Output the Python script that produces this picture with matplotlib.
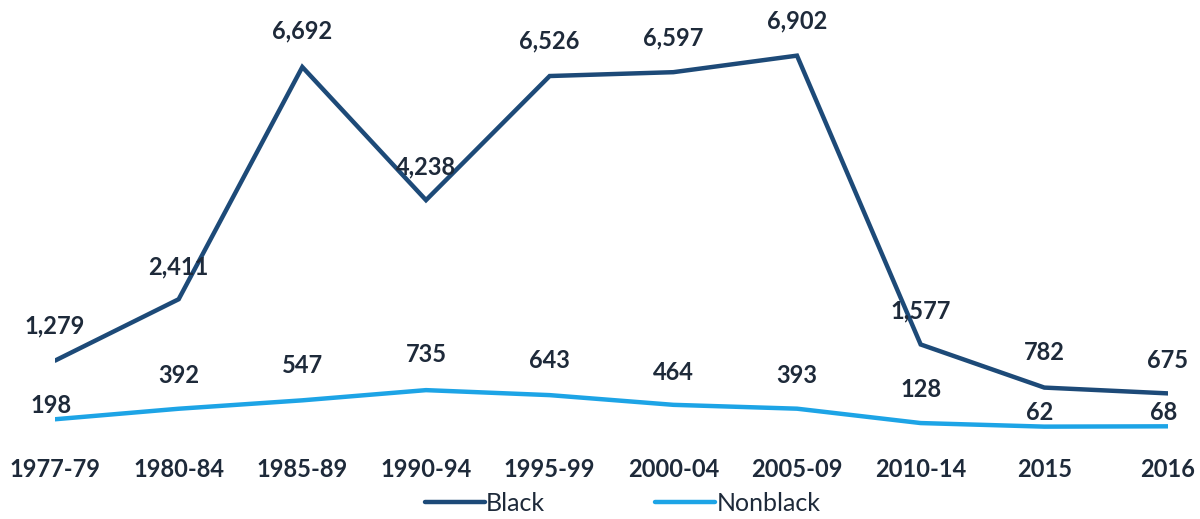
import matplotlib
matplotlib.use("Agg")
import matplotlib.pyplot as plt

periods = ["1977-79", "1980-84", "1985-89", "1990-94", "1995-99",
           "2000-04", "2005-09", "2010-14", "2015", "2016"]
black = [1279, 2411, 6692, 4238, 6526, 6597, 6902, 1577, 782, 675]
nonblack = [198, 392, 547, 735, 643, 464, 393, 128, 62, 68]

# vertical label offsets in points (small values sit tight above the line)
black_offsets = [25, 23, 26, 24, 25, 25, 25, 24, 25, 24]
nonblack_offsets = [10, 24, 25, 26, 25, 23, 24, 24, 10, 10]

BLACK_COLOR = "#1d4a78"
NONBLACK_COLOR = "#1da4e6"
TEXT_COLOR = "#1e2a3a"

fig = plt.figure(figsize=(12, 5.19), dpi=100)
ax = fig.add_axes([55 / 1200, 1 - 430 / 519, 1113 / 1200, 410 / 519])

x = list(range(len(periods)))
ax.plot(x, black, color=BLACK_COLOR, lw=3.2, solid_capstyle="round",
        solid_joinstyle="miter", label="Black", zorder=3)
ax.plot(x, nonblack, color=NONBLACK_COLOR, lw=3.2, solid_capstyle="round",
        solid_joinstyle="miter", label="Nonblack", zorder=3)

label_font = dict(family=["Lato", "DejaVu Sans"], weight="bold", size=17,
                  color=TEXT_COLOR)
for xi, v, off in zip(x, black, black_offsets):
    ax.annotate(f"{v:,}", (xi, v), xytext=(0, off), textcoords="offset points",
                ha="center", va="center", zorder=4, **label_font)
for xi, v, off in zip(x, nonblack, nonblack_offsets):
    ax.annotate(f"{v:,}", (xi, v), xytext=(-3 if off < 15 else 0, off),
                textcoords="offset points", ha="center", va="center",
                zorder=4, **label_font)

ax.set_xlim(0, 9)
ax.set_ylim(0, 7559)
ax.set_xticks(x)
ax.set_xticklabels(periods, family=["Lato", "DejaVu Sans"],
                   weight="bold", size=17, color=TEXT_COLOR)
ax.tick_params(axis="x", length=0, pad=20)
ax.set_yticks([])
for s in ax.spines.values():
    s.set_visible(False)

leg = fig.legend(loc="lower center", bbox_to_anchor=(0.519, -0.035), ncol=2,
                 frameon=False, handlelength=2.4, handletextpad=0.05,
                 columnspacing=4.4,
                 prop=dict(family=["Lato", "DejaVu Sans"], size=18))
for t in leg.get_texts():
    t.set_color(TEXT_COLOR)

fig.savefig("out.png", dpi=100, facecolor="white")
